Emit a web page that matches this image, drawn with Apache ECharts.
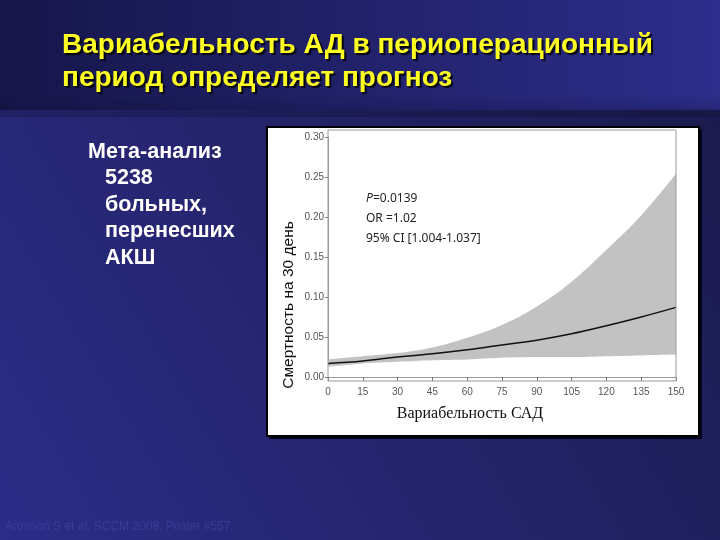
<!DOCTYPE html>
<html>
<head>
<meta charset="utf-8">
<script src="https://cdn.jsdelivr.net/npm/echarts@6/dist/echarts.min.js"></script>
<style>
  html, body { margin: 0; padding: 0; background: #1c1c55; }
  #chart { width: 720px; height: 540px; }
</style>
</head>
<body>
<div id="chart"></div>
<script>
// SBP variability (x) vs 30-day mortality, with 95% CI band
const xValues = [0, 15, 30, 45, 60, 75, 90, 105, 120, 135, 150];
const meanRisk = [0.017, 0.020, 0.025, 0.029, 0.034, 0.040, 0.046, 0.054, 0.064, 0.075, 0.087];
const upperCI = [0.022, 0.026, 0.030, 0.037, 0.049, 0.065, 0.088, 0.119, 0.159, 0.202, 0.254];
const lowerCI = [0.013, 0.017, 0.019, 0.021, 0.022, 0.024, 0.025, 0.025, 0.026, 0.027, 0.028];

const titleLines = ['Вариабельность АД в периоперационный', 'период определяет прогноз'];
const sideLines = ['Мета-анализ', '5238', 'больных,', 'перенесших', 'АКШ'];
const statLines = ['=0.0139', 'OR =1.02', '95% CI [1.004-1.037]'];

const chart = echarts.init(document.getElementById('chart'));

const pairs = (vals) => xValues.map((x, i) => [x, vals[i]]);

const grad = (x, y, x2, y2, c0, c1) => ({
  type: 'linear', x: x, y: y, x2: x2, y2: y2,
  colorStops: [{ offset: 0, color: c0 }, { offset: 1, color: c1 }],
});

const graphics = [
  // slide background
  { type: 'rect', z: -10, shape: { x: 0, y: 108, width: 720, height: 432 },
    style: { fill: grad(0, 1, 1, 0, '#2c2c88', '#1b1b4e') } },
  { type: 'rect', z: -9, shape: { x: 0, y: 0, width: 720, height: 110 },
    style: { fill: grad(0, 0, 1, 0, '#16164a', '#2d2d8c') } },
  { type: 'rect', z: -8, shape: { x: 0, y: 95, width: 720, height: 22 },
    style: { fill: grad(0, 0, 0, 1, 'rgba(10,10,40,0)', 'rgba(10,10,40,0.3)') } },
  // inset white panel
  { type: 'rect', z: -5, shape: { x: 269, y: 129, width: 433, height: 310 },
    style: { fill: '#05051a' } },
  { type: 'rect', z: -4, shape: { x: 267, y: 127, width: 432, height: 309 },
    style: { fill: '#ffffff', stroke: '#000000', lineWidth: 2 } },
  // plot frame
  { type: 'rect', z: 50, shape: { x: 328, y: 130, width: 348, height: 251 },
    style: { fill: 'none', stroke: '#9a9a9a', lineWidth: 1 } },
];

titleLines.forEach((t, i) => {
  graphics.push({ type: 'text', z: 100, x: 62, y: 31 + i * 33,
    style: { text: t, fill: '#ffff22', font: 'bold 28px "Liberation Sans", Arial, sans-serif',
      textShadowColor: 'rgba(0,0,0,0.85)', textShadowOffsetX: 2, textShadowOffsetY: 2, textShadowBlur: 1 } });
});

sideLines.forEach((t, i) => {
  graphics.push({ type: 'text', z: 100, x: i === 0 ? 88 : 105, y: 141 + i * 26.5,
    style: { text: t, fill: '#ffffff', font: 'bold 21.5px "Liberation Sans", Arial, sans-serif' } });
});

graphics.push({ type: 'text', z: 100, x: 366, y: 193,
  style: { text: 'P', fill: '#222', font: 'italic 12px "Noto Sans", sans-serif' } });
statLines.forEach((t, i) => {
  graphics.push({ type: 'text', z: 100, x: i === 0 ? 373 : 366, y: 193 + i * 20,
    style: { text: t, fill: '#222', font: '12px "Noto Sans", sans-serif' } });
});

graphics.push({ type: 'text', z: 100, x: 289, y: 305, rotation: Math.PI / 2,
  style: { text: 'Смертность на 30 день', fill: '#111', font: '15.5px "Liberation Sans", Arial, sans-serif',
    align: 'center', verticalAlign: 'middle' } });
graphics.push({ type: 'text', z: 100, x: 470, y: 414,
  style: { text: 'Вариабельность САД', fill: '#111', font: '16px "Liberation Serif", serif',
    align: 'center', verticalAlign: 'middle' } });
graphics.push({ type: 'text', z: 100, x: 5, y: 521,
  style: { text: 'Aronson S et al. SCCM 2008, Poster #557', fill: '#3c3c98',
    font: '12px "Liberation Sans", Arial, sans-serif' } });

chart.setOption({
  animation: false,
  backgroundColor: '#1c1c55',
  graphic: graphics,
  grid: { left: 328, right: 44, top: 137, bottom: 163 },
  xAxis: {
    type: 'value', min: 0, max: 150, interval: 15, offset: 4,
    axisLine: { show: true, lineStyle: { color: '#9a9a9a' } },
    axisTick: { show: true, length: 4, lineStyle: { color: '#777' } },
    axisLabel: { color: '#555', fontSize: 10, margin: 6, fontFamily: 'Liberation Sans' },
    splitLine: { show: false },
  },
  yAxis: {
    type: 'value', min: 0, max: 0.3, interval: 0.05,
    axisLine: { show: true, lineStyle: { color: '#9a9a9a' } },
    axisTick: { show: true, length: 3, lineStyle: { color: '#777' } },
    axisLabel: { color: '#555', fontSize: 10, margin: 4, fontFamily: 'Liberation Sans',
      formatter: (v) => v.toFixed(2) },
    splitLine: { show: false },
  },
  series: [
    // upper CI filled grey down to the axis, lower CI filled white on top of it
    { type: 'line', data: pairs(upperCI), symbol: 'none', smooth: 0.4,
      lineStyle: { width: 0, opacity: 0 }, areaStyle: { color: '#c2c2c2', opacity: 1 }, silent: true, z: 2 },
    { type: 'line', data: pairs(lowerCI), symbol: 'none', smooth: 0.4,
      lineStyle: { width: 0, opacity: 0 }, areaStyle: { color: '#ffffff', opacity: 1 }, silent: true, z: 3 },
    { type: 'line', data: pairs(meanRisk), symbol: 'none', smooth: 0.4,
      lineStyle: { color: '#111', width: 1.5 }, z: 5 },
  ],
});
</script>
</body>
</html>
